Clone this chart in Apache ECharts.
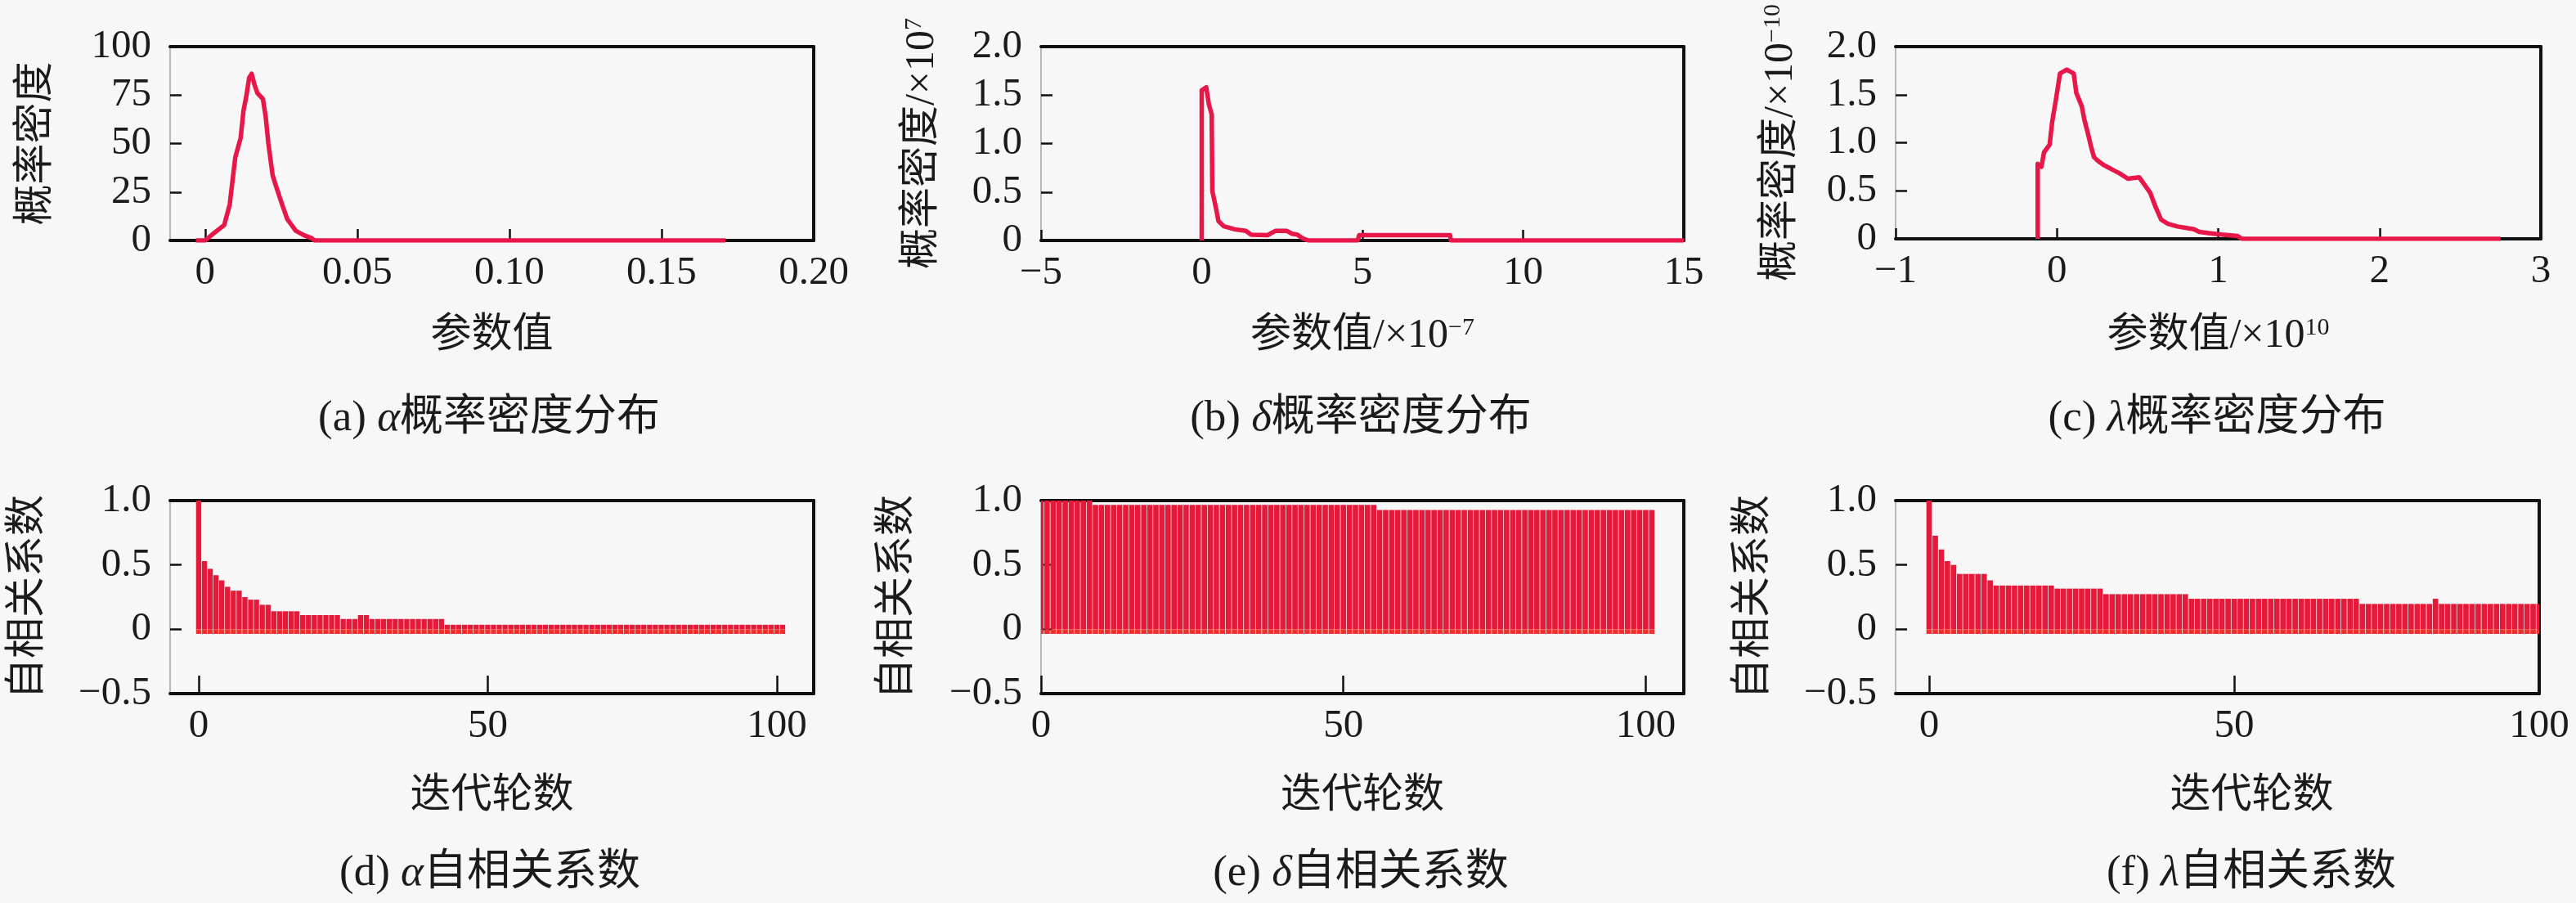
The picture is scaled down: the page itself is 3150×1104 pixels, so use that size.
<!DOCTYPE html>
<html><head><meta charset="utf-8">
<script src="https://cdn.jsdelivr.net/npm/echarts@6/dist/echarts.min.js"></script>
<style>html,body{margin:0;padding:0;background:#f7f7f7}#c{width:3150px;height:1104px}</style>
</head><body><div id="c"></div><script>
// ---------- DATA ----------
// (a) alpha density: x values and density
const aX = [-0.003, 0, 0.0027, 0.0063, 0.0081, 0.0099, 0.0117, 0.0126, 0.0135, 0.0145, 0.0153, 0.0163, 0.0172, 0.019, 0.0199, 0.0208, 0.0222, 0.0234, 0.0253, 0.027, 0.0298, 0.0325, 0.035, 0.036, 0.171];
const aY = [0, 0, 3.5, 8, 18.6, 42.7, 53, 66.8, 74, 84, 86, 80, 76, 73, 64, 50, 33.6, 27.6, 18.6, 11, 5, 2.7, 1.2, 0, 0];
// (b) delta density (x in 1e-7, y in 1e7)
const bX = [0, 0, 0.14, 0.22, 0.31, 0.33, 0.44, 0.52, 0.69, 1.03, 1.37, 1.54, 2.05, 2.30, 2.64, 2.81, 2.98, 3.15, 3.32, 4.85, 4.9, 7.73, 7.75, 15];
const bY = [0, 1.55, 1.58, 1.41, 1.30, 0.51, 0.34, 0.20, 0.146, 0.115, 0.10, 0.06, 0.055, 0.10, 0.10, 0.07, 0.06, 0.02, 0, 0, 0.055, 0.055, 0, 0];
// (c) lambda density (x in 1e10, y in 1e-10)
const cX = [-0.119, -0.119, -0.096, -0.08, -0.045, -0.03, -0.006, 0.019, 0.061, 0.104, 0.12, 0.154, 0.17, 0.196, 0.213, 0.23, 0.255, 0.288, 0.339, 0.39, 0.44, 0.51, 0.536, 0.578, 0.612, 0.646, 0.688, 0.747, 0.849, 0.883, 0.95, 1.02, 1.12, 1.147, 2.75];
const cY = [0, 0.78, 0.75, 0.90, 0.98, 1.21, 1.45, 1.72, 1.76, 1.72, 1.52, 1.38, 1.24, 1.07, 0.95, 0.85, 0.81, 0.77, 0.725, 0.68, 0.626, 0.64, 0.58, 0.48, 0.33, 0.20, 0.157, 0.129, 0.10, 0.072, 0.058, 0.044, 0.03, 0, 0];
// (d) alpha autocorrelation, lags 0..101
const dACF = [1.0, 0.53, 0.47, 0.42, 0.38, 0.33, 0.30, 0.30, 0.25, 0.23, 0.23, 0.19, 0.19, 0.14, 0.14, 0.14, 0.14, 0.14, 0.11, 0.11,
  0.11, 0.11, 0.11, 0.11, 0.11, 0.08, 0.08, 0.08, 0.11, 0.11, 0.08, 0.08, 0.08, 0.08, 0.08, 0.08, 0.08, 0.08, 0.08, 0.08,
  0.08, 0.08, 0.08, 0.035, 0.035, 0.035, 0.035, 0.035, 0.035, 0.035, 0.035, 0.035, 0.035, 0.035, 0.035, 0.035, 0.035, 0.035, 0.035, 0.035,
  0.035, 0.035, 0.035, 0.035, 0.035, 0.035, 0.035, 0.035, 0.035, 0.035, 0.035, 0.035, 0.035, 0.035, 0.035, 0.035, 0.035, 0.035, 0.035, 0.035,
  0.035, 0.035, 0.035, 0.035, 0.035, 0.035, 0.035, 0.035, 0.035, 0.035, 0.035, 0.035, 0.035, 0.035, 0.035, 0.035, 0.035, 0.035, 0.035, 0.035,
  0.035, 0.035];
// (e) delta autocorrelation, lags 0..101
const eACF = [1.0, 1.0, 1.0, 1.0, 1.0, 1.0, 1.0, 1.0, 1.0, 0.966, 0.966, 0.966, 0.966, 0.966, 0.966, 0.966, 0.966, 0.966, 0.966, 0.966,
  0.966, 0.966, 0.966, 0.966, 0.966, 0.966, 0.966, 0.966, 0.966, 0.966, 0.966, 0.966, 0.966, 0.966, 0.966, 0.966, 0.966, 0.966, 0.966, 0.966,
  0.966, 0.966, 0.966, 0.966, 0.966, 0.966, 0.966, 0.966, 0.966, 0.966, 0.966, 0.966, 0.966, 0.966, 0.966, 0.966, 0.927, 0.927, 0.927, 0.927,
  0.927, 0.927, 0.927, 0.927, 0.927, 0.927, 0.927, 0.927, 0.927, 0.927, 0.927, 0.927, 0.927, 0.927, 0.927, 0.927, 0.927, 0.927, 0.927, 0.927,
  0.927, 0.927, 0.927, 0.927, 0.927, 0.927, 0.927, 0.927, 0.927, 0.927, 0.927, 0.927, 0.927, 0.927, 0.927, 0.927, 0.927, 0.927, 0.927, 0.927,
  0.927, 0.927];
// (f) lambda autocorrelation, lags 0..100
const fACF = [1.0, 0.727, 0.62, 0.53, 0.50, 0.43, 0.43, 0.43, 0.43, 0.43, 0.38, 0.34, 0.34, 0.34, 0.34, 0.34, 0.34, 0.34, 0.34, 0.34,
  0.34, 0.316, 0.316, 0.316, 0.316, 0.316, 0.316, 0.316, 0.316, 0.273, 0.273, 0.273, 0.273, 0.273, 0.273, 0.273, 0.273, 0.273, 0.273, 0.273,
  0.273, 0.273, 0.273, 0.237, 0.237, 0.237, 0.237, 0.237, 0.237, 0.237, 0.237, 0.237, 0.237, 0.237, 0.237, 0.237, 0.237, 0.237, 0.237, 0.237,
  0.237, 0.237, 0.237, 0.237, 0.237, 0.237, 0.237, 0.237, 0.237, 0.237, 0.237, 0.197, 0.197, 0.197, 0.197, 0.197, 0.197, 0.197, 0.197, 0.197,
  0.197, 0.197, 0.197, 0.237, 0.197, 0.197, 0.197, 0.197, 0.197, 0.197, 0.197, 0.197, 0.197, 0.197, 0.197, 0.197, 0.197, 0.197, 0.197, 0.197,
  0.197];

// tick values and labels
const aXTicks = [0, 0.05, 0.1, 0.15, 0.2];      const aXLabels = ['0', '0.05', '0.10', '0.15', '0.20'];
const aYTicks = [0, 25, 50, 75, 100];           const aYLabels = ['0', '25', '50', '75', '100'];
const bXTicks = [-5, 0, 5, 10, 15];             const bXLabels = ['\u22125', '0', '5', '10', '15'];
const cXTicks = [-1, 0, 1, 2, 3];               const cXLabels = ['\u22121', '0', '1', '2', '3'];
const dYTicks = [0, 0.5, 1, 1.5, 2];            const dYLabels = ['0', '0.5', '1.0', '1.5', '2.0'];
const lagTicks = [0, 50, 100];                  const lagLabels = ['0', '50', '100'];
const acfTicks = [-0.5, 0, 0.5, 1];             const acfLabels = ['\u22120.5', '0', '0.5', '1.0'];

// ---------- STYLE ----------
const TXT = '#1b1b1b';
const NUM = "'Liberation Serif', 'Times New Roman', serif";
const CJK = "'Liberation Serif', 'Noto Sans CJK SC', serif";
const LINE_C = '#e8174a';
const BAR_C = '#e5193a';
const FLOOR_C = '#f0302e';
const FLOOR = -0.036;

const rich = {
  c: { fontFamily: CJK, fontSize: 50, color: TXT },
  n: { fontFamily: NUM, fontSize: 50, color: TXT },
  s: { fontFamily: NUM, fontSize: 30, color: TXT, verticalAlign: 'top' },
  i: { fontFamily: NUM, fontSize: 52, color: TXT, fontStyle: 'italic' }
};

const panels = [
  { grid: { left: 208, top: 57, width: 787, height: 237 }, xMin: -0.0115, xMax: 0.2, xT: aXTicks, xL: aXLabels,
    yMin: 0, yMax: 100, yT: aYTicks, yL: aYLabels, xName: '{c|参数值}', yName: '{c|概率密度}', xGap: 92, yGap: 138, xTick: 14, xPad: 0 },
  { grid: { left: 1273, top: 57, width: 786, height: 237 }, xMin: -5, xMax: 15, xT: bXTicks, xL: bXLabels,
    yMin: 0, yMax: 2, yT: dYTicks, yL: dYLabels, xName: '{c|参数值/}{n|×10}{s|\u22127}', yName: '{c|概率密度/}{n|×10}{s|7}', xGap: 92, yGap: 120, xTick: 13, xPad: 0 },
  { grid: { left: 2318, top: 57, width: 789, height: 235 }, xMin: -1, xMax: 3, xT: cXTicks, xL: cXLabels,
    yMin: 0, yMax: 2, yT: dYTicks, yL: dYLabels, xName: '{c|参数值/}{n|×10}{s|10}', yName: '{c|概率密度/}{n|×10}{s|\u221210}', xGap: 94, yGap: 115, xTick: 13, xPad: 0 },
  { grid: { left: 208, top: 612, width: 787, height: 236 }, xMin: -4.94, xMax: 106.38, xT: lagTicks, xL: lagLabels,
    yMin: -0.5, yMax: 1, yT: acfTicks, yL: acfLabels, xName: '{c|迭代轮数}', yName: '{c|自相关系数}', xGap: 101, yGap: 148, xTick: 22, xPad: 0 },
  { grid: { left: 1273, top: 612, width: 786, height: 236 }, xMin: 0, xMax: 106.3, xT: lagTicks, xL: lagLabels,
    yMin: -0.5, yMax: 1, yT: acfTicks, yL: acfLabels, xName: '{c|迭代轮数}', yName: '{c|自相关系数}', xGap: 101, yGap: 150, xTick: 22, xPad: 0 },
  { grid: { left: 2318, top: 612, width: 787, height: 236 }, xMin: -5.5, xMax: 100, xT: lagTicks, xL: lagLabels,
    yMin: -0.5, yMax: 1, yT: acfTicks, yL: acfLabels, xName: '{c|迭代轮数}', yName: '{c|自相关系数}', xGap: 101, yGap: 148, xTick: 22, xPad: 84 }
];

function fmt(ticks, labels) {
  return function (v) {
    for (let i = 0; i < ticks.length; i++) if (Math.abs(ticks[i] - v) < 1e-9) return labels[i];
    return '';
  };
}

const grid = [], xAxis = [], yAxis = [], series = [];
panels.forEach((p, k) => {
  grid.push(Object.assign({ show: false, containLabel: false }, p.grid));
  xAxis.push({
    type: 'value', gridIndex: k, min: p.xMin, max: p.xMax, position: 'bottom',
    splitLine: { show: false },
    axisLine: { show: true, onZero: false, lineStyle: { color: '#111', width: 4 } },
    axisTick: { show: true, inside: true, length: p.xTick, customValues: p.xT, lineStyle: { color: '#111', width: 2.5 } },
    axisLabel: { customValues: p.xT, formatter: fmt(p.xT, p.xL), margin: 16, fontFamily: NUM, fontSize: 49, color: TXT },
    name: p.xName, nameLocation: 'middle', nameGap: p.xGap,
    nameTextStyle: { rich: rich, padding: [0, 0, 0, p.xPad] }
  });
  yAxis.push({
    type: 'value', gridIndex: k, min: p.yMin, max: p.yMax, position: 'left',
    splitLine: { show: false },
    axisLine: { show: true, onZero: false, lineStyle: { color: '#b8b8b8', width: 2 } },
    axisTick: { show: true, inside: true, length: 14, customValues: p.yT, lineStyle: { color: '#111', width: 2.5 } },
    axisLabel: { customValues: p.yT, formatter: fmt(p.yT, p.yL), margin: 23, fontFamily: NUM, fontSize: 49, color: TXT },
    name: p.yName, nameLocation: 'middle', nameGap: p.yGap,
    nameTextStyle: { rich: rich }
  });
});
// frame lines (top and right) as extra axes
panels.forEach((p, k) => {
  xAxis.push({ type: 'value', gridIndex: k, min: 0, max: 1, position: 'top',
    axisLine: { show: true, onZero: false, lineStyle: { color: '#111', width: 4 } },
    axisTick: { show: false }, axisLabel: { show: false }, splitLine: { show: false } });
  yAxis.push({ type: 'value', gridIndex: k, min: 0, max: 1, position: 'right',
    axisLine: { show: true, onZero: false, lineStyle: { color: '#111', width: 4 } },
    axisTick: { show: false }, axisLabel: { show: false }, splitLine: { show: false } });
});

function lineSeries(k, xs, ys) {
  return {
    type: 'line', xAxisIndex: k, yAxisIndex: k, data: xs.map((x, i) => [x, ys[i]]),
    showSymbol: false, symbol: 'none', clip: true, z: 3,
    lineStyle: { color: LINE_C, width: 5.5, join: 'round' }
  };
}
series.push(lineSeries(0, aX, aY));
series.push(lineSeries(1, bX, bY));
series.push(lineSeries(2, cX, cY));

function barSeries(k, vals) {
  return {
    type: 'custom', xAxisIndex: k, yAxisIndex: k, clip: true, z: 3,
    data: vals.map((v, i) => [i, v]),
    renderItem: function (params, api) {
      const lag = api.value(0), v = api.value(1);
      const top = api.coord([lag, v]);
      const zero = api.coord([lag, 0]);
      const bot = api.coord([lag, FLOOR]);
      const w = api.size([0.9, 0])[0];
      return {
        type: 'group', children: [
          { type: 'rect', shape: { x: top[0] - w / 2, y: top[1], width: w, height: zero[1] - top[1] }, style: { fill: BAR_C } },
          { type: 'rect', shape: { x: top[0] - w / 2, y: zero[1], width: w, height: bot[1] - zero[1] }, style: { fill: FLOOR_C } }
        ]
      };
    }
  };
}
series.push(barSeries(3, dACF));
series.push(barSeries(4, eACF));
series.push(barSeries(5, fACF));

const captions = [
  { x: 598, y: 512, t: '{n|(a) }{i|α}{c|概率密度分布}' },
  { x: 1664, y: 512, t: '{n|(b) }{i|δ}{c|概率密度分布}' },
  { x: 2711, y: 512, t: '{n|(c) }{i|λ}{c|概率密度分布}' },
  { x: 599, y: 1068, t: '{n|(d) }{i|α}{c|自相关系数}' },
  { x: 1664, y: 1068, t: '{n|(e) }{i|δ}{c|自相关系数}' },
  { x: 2753, y: 1068, t: '{n|(f) }{i|λ}{c|自相关系数}' }
];
const capRich = {
  c: { fontFamily: CJK, fontSize: 53, fill: TXT },
  n: { fontFamily: NUM, fontSize: 53, fill: TXT },
  i: { fontFamily: NUM, fontSize: 53, fill: TXT, fontStyle: 'italic' }
};

const chart = echarts.init(document.getElementById('c'));
chart.setOption({
  backgroundColor: '#f7f7f7',
  animation: false,
  grid, xAxis, yAxis, series,
  graphic: captions.map(c => ({
    type: 'text', x: c.x, y: c.y,
    style: { text: c.t, rich: capRich, align: 'center', verticalAlign: 'middle' }
  }))
});
</script></body></html>
